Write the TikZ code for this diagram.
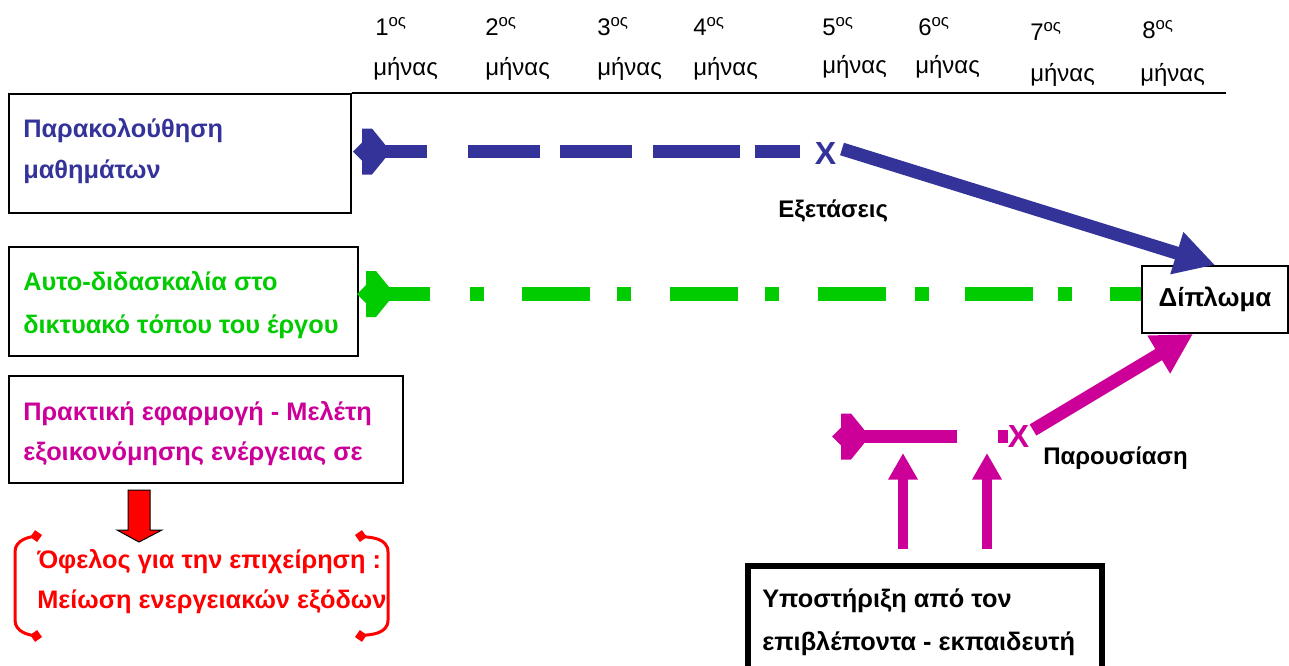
\documentclass[tikz,border=0pt]{standalone}
\usepackage{fontspec}
\setmainfont{Liberation Sans}
\usetikzlibrary{arrows.meta}
\definecolor{cblue}{HTML}{333399}
\definecolor{cgreen}{HTML}{00CC00}
\definecolor{cmag}{HTML}{CC0099}
\definecolor{cred}{HTML}{FF0000}
\begin{document}
\begin{tikzpicture}[x=0.75pt,y=-0.75pt,
  hdr/.style={anchor=base west,inner sep=0pt,font=\fontsize{18}{22}\selectfont},
  lbl/.style={anchor=base west,inner sep=0pt,font=\fontsize{18}{22}\selectfont\bfseries},
  btxt/.style={anchor=base west,inner sep=0pt,font=\fontsize{19}{22}\selectfont\bfseries},
  frame/.style={draw=black,line width=1.5pt,fill=white,anchor=north west,inner sep=0pt},
  xmark/.style={inner sep=0pt,font=\fontsize{24}{26}\selectfont\bfseries},
  tailmark/.pic={\fill (0,0) -- (9,-9) -- (9,-23) -- (19,-23) -- (32,-7) -- (32,7) -- (19,23) -- (9,23) -- (9,9) -- cycle;},
  bigtip/.style={-{Triangle[length=30pt,width=31pt]}},
  smalltip/.style={-{Triangle[length=20pt,width=21pt]}}
]
\useasboundingbox[fill=white] (0,0) rectangle (1289,665);

% header
\foreach \n/\xa/\ya/\xb/\yb in {1/375/35/373/75,2/485/35/485/75,3/597/35/597/75,4/693/35/693/75,5/822/35/822/73,6/918/35/915/73,7/1030/40/1030/81,8/1142/38/1140/81}{
  \node[hdr] (n\n) at (\xa,\ya) {\n\textsuperscript{ος}};
  \node[hdr] (m\n) at (\xb,\yb) {μήνας};
}
\coordinate (hlend) at (1226,93);

% boxes
\node[frame,minimum width=256.5pt,minimum height=89.25pt] (b1) at (8,93) {};
\node[frame,minimum width=261.75pt,minimum height=81.75pt] (b2) at (8,246) {};
\node[frame,minimum width=295.5pt,minimum height=80.25pt] (b3) at (8,375) {};
\draw[line width=1.5pt] (b1.north east) -- (hlend);

\node[btxt,text=cblue] (t1a) at (23,137) {Παρακολούθηση};
\node[btxt,text=cblue] (t1b) at (23,178) {μαθημάτων};
\node[btxt,text=cgreen] (t2a) at (23,290) {Αυτο-διδασκαλία στο};
\node[btxt,text=cgreen] (t2b) at (23,333) {δικτυακό τόπου του έργου};
\node[btxt,text=cmag] (t3a) at (23,420) {Πρακτική εφαρμογή - Μελέτη};
\node[btxt,text=cmag] (t3b) at (23,460) {εξοικονόμησης ενέργειας σε};

% diploma
\node[frame,minimum width=109.5pt,minimum height=50.25pt,font=\fontsize{19.5}{22}\selectfont\bfseries] (dip) at (1141,265) {Δίπλωμα};

% blue row
\pic[color=cblue] at (353,151.5) {tailmark};
\coordinate (bs) at (362,151.5);
\coordinate (be) at (800,151.5);
\draw[cblue,line width=9.75pt,dash pattern=on 48.75pt off 30.75pt on 54pt off 15pt on 54pt off 15.75pt on 65.25pt off 11.25pt on 33.75pt off 100pt] (bs) -- (be);
\node[xmark,text=cblue] (bx) at (825.5,153.5) {X};
\coordinate (bas) at (842,149);
\draw[cblue,line width=9.75pt,bigtip] (bas) -- (dip.north);
\node[lbl] (exams) at (778,217) {Εξετάσεις};

% green row
\pic[color=cgreen] at (357,294) {tailmark};
\coordinate (gs) at (372,294);
\draw[cgreen,line width=10.5pt,dash pattern=on 43.5pt off 30pt on 10.5pt off 28.5pt on 51pt off 20.25pt on 10.5pt off 29.25pt on 51pt off 20.25pt on 10.5pt off 29.25pt on 51pt off 21.75pt on 10.5pt off 27pt on 51pt off 18.75pt on 10.5pt off 28.5pt on 40pt off 100pt] (gs) -- (dip.west |- gs);

% magenta row
\pic[color=cmag] at (832,436.5) {tailmark};
\coordinate (ms) at (850,436.5);
\coordinate (me) at (1008,436.5);
\draw[cmag,line width=9.75pt,dash pattern=on 80.25pt off 30.75pt on 7.5pt off 100pt] (ms) -- (me);
\node[xmark,text=cmag] (mx) at (1018.5,436.5) {X};
\coordinate (mas) at (1033,430);
\draw[cmag,line width=9.75pt,bigtip] (mas) -- ([xshift=-16.5pt]dip.south);
\node[lbl] (pres) at (1043,464) {Παρουσίαση};

% support box
\node[draw=black,line width=4.5pt,fill=white,anchor=north west,inner sep=0pt,minimum width=265.5pt,minimum height=120pt] (sup) at (745,563) {};
\node[btxt] (s1) at (762,607) {Υποστήριξη από τον};
\node[btxt] (s2) at (762,650) {επιβλέποντα - εκπαιδευτή};
\coordinate (v1s) at (903,549);
\coordinate (v1e) at (903,453);
\coordinate (v2s) at (987,549);
\coordinate (v2e) at (987,453);
\draw[cmag,line width=7pt,smalltip] (v1s) -- (v1e);
\draw[cmag,line width=7pt,smalltip] (v2s) -- (v2e);

% red arrow and benefit text
\filldraw[fill=cred,draw=black,line width=0.75pt] (128,490) -- (150,490) -- (150,530) -- (162,530) -- (139,542) -- (117,530) -- (128,530) -- cycle;
\node[btxt,text=cred] (r1) at (37,568) {Όφελος για την επιχείρηση :};
\node[btxt,text=cred] (r2) at (37,608) {Μείωση ενεργειακών εξόδων};
\draw[cred,line width=2.25pt,{Diamond[length=9pt,width=9pt]}-{Diamond[length=9pt,width=9pt]}] (42,535) to[out=190,in=90] (15,552) -- (15,620) to[out=-90,in=170] (42,637);
\draw[cred,line width=2.25pt,{Diamond[length=9pt,width=9pt]}-{Diamond[length=9pt,width=9pt]}] (355,535) to[out=-10,in=90] (388,552) -- (388,620) to[out=-90,in=10] (355,637);
\end{tikzpicture}
\end{document}
